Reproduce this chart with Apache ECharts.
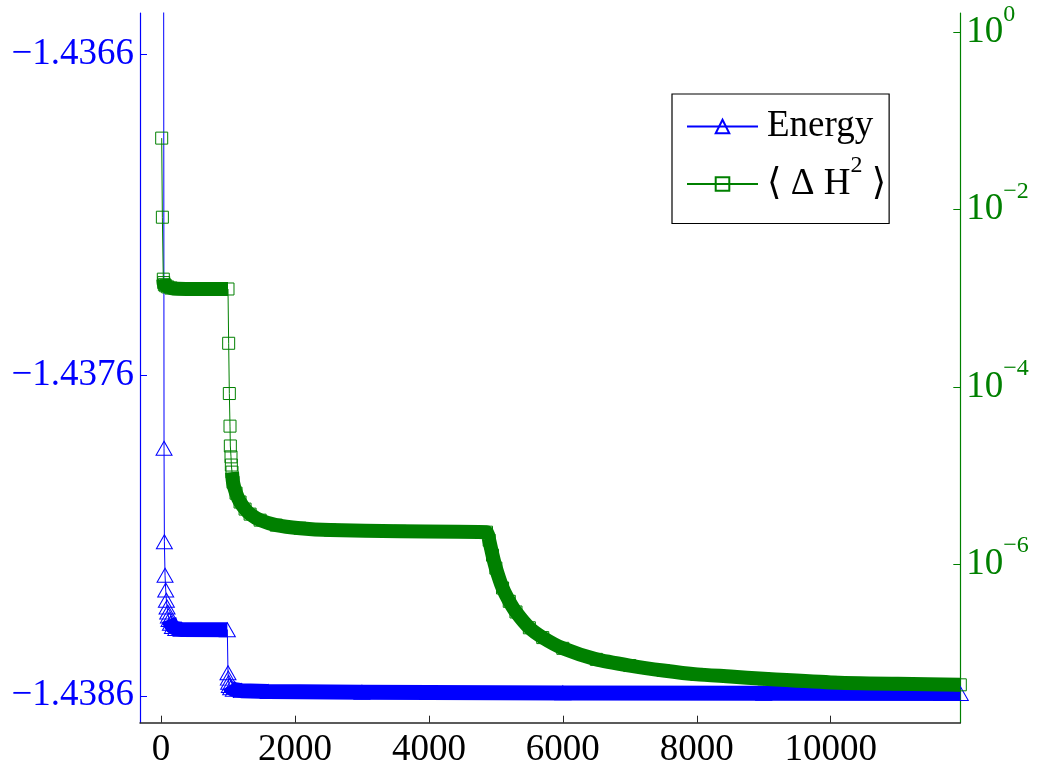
<!DOCTYPE html>
<html>
<head>
<meta charset="utf-8">
<script src="https://cdn.jsdelivr.net/npm/echarts@6/dist/echarts.min.js"></script>
<style>
html,body{margin:0;padding:0;background:#fff;}
#chart{width:1037px;height:772px;}
</style>
</head>
<body>
<div id="chart"></div>
<script>
// ---- Data ----
// Energy (left axis)
const energySteps = [30, 45, 50, 60, 70, 80, 90, 100, 110, 120, 140, 170, 220, 300, 990,
  1000, 1005, 1010, 1020, 1040, 1080, 1200, 1600, 3000, 6000, 9000, 11935];
const energyValues = [-1.4340, -1.437828, -1.438120, -1.438224, -1.438270, -1.438302, -1.438323,
  -1.438339, -1.438351, -1.438362, -1.438374, -1.438384, -1.438390, -1.438393, -1.438394,
  -1.438528, -1.438545, -1.438558, -1.438568, -1.438575, -1.438580, -1.438584, -1.438587,
  -1.438589, -1.438591, -1.438592, -1.438593];
// index ranges where markers are so dense they form a solid band
const energyBandRanges = [[9, 14], [18, 26]];

// <ΔH^2> (right axis, logarithmic)
const dh2Steps = [10, 20, 34, 40, 50, 70, 100, 150, 250, 500, 1000,
  1010, 1020, 1030, 1035, 1045, 1050, 1060, 1075, 1120, 1180, 1255, 1330, 1480, 1720, 2075,
  2525, 3570, 4860, 4900, 4950, 5000, 5100, 5200, 5300, 5500, 5700, 6000, 6500, 7000, 7500,
  8000, 8500, 9000, 10000, 11000, 11935];
const dh2Values = [0.064, 0.0082, 1.64e-3, 1.50e-3, 1.42e-3, 1.38e-3, 1.34e-3, 1.30e-3, 1.28e-3,
  1.27e-3, 1.27e-3, 3.1e-4, 8.4e-5, 3.6e-5, 2.15e-5, 1.62e-5, 1.31e-5, 1.09e-5, 8.39e-6,
  6.31e-6, 5.01e-6, 4.17e-6, 3.66e-6, 3.13e-6, 2.75e-6, 2.54e-6, 2.42e-6, 2.34e-6, 2.29e-6,
  1.86e-6, 1.26e-6, 9.0e-7, 5.37e-7, 3.80e-7, 2.88e-7, 1.91e-7, 1.48e-7, 1.12e-7, 8.41e-8,
  7.16e-8, 6.3e-8, 5.69e-8, 5.39e-8, 5.07e-8, 4.62e-8, 4.45e-8, 4.34e-8];
const dh2BandRanges = [[2, 10], [17, 46]];

// ticks
const xTicks = [0, 2000, 4000, 6000, 8000, 10000];
const energyTicks = [-1.4386, -1.4376, -1.4366];
const dh2TickExponents = [-6, -4, -2, 0];

// ---- build ----
const FONT = "'Liberation Serif', 'DejaVu Serif', serif";
const BLUE = '#0000ff';
const GREEN = '#008000';

const energyData = energySteps.map((s, i) => [s, energyValues[i]]);
const dh2Data = dh2Steps.map((s, i) => [s, Math.log10(dh2Values[i])]);

const series = [];
series.push({
  name: 'Energy', type: 'line', yAxisIndex: 0, data: energyData,
  symbol: 'triangle', symbolSize: [16, 14],
  itemStyle: { color: 'rgba(0,0,0,0)', borderColor: BLUE, borderWidth: 1 },
  lineStyle: { color: BLUE, width: 1 }, z: 2
});
energyBandRanges.forEach(r => {
  series.push({
    name: 'Energy', type: 'line', yAxisIndex: 0,
    data: energyData.slice(r[0], r[1] + 1), symbol: 'none',
    lineStyle: { color: BLUE, width: 15, join: 'round', cap: 'butt' }, z: 2
  });
});
series.push({
  name: 'dH2', type: 'line', yAxisIndex: 1, data: dh2Data,
  symbol: 'rect', symbolSize: 12,
  itemStyle: { color: 'rgba(0,0,0,0)', borderColor: GREEN, borderWidth: 1 },
  lineStyle: { color: GREEN, width: 1 }, z: 3
});
dh2BandRanges.forEach(r => {
  series.push({
    name: 'dH2', type: 'line', yAxisIndex: 1,
    data: dh2Data.slice(r[0], r[1] + 1), symbol: 'none', smooth: 0.2,
    lineStyle: { color: GREEN, width: 14, join: 'round', cap: 'butt' }, z: 3
  });
});

const chart = echarts.init(document.getElementById('chart'), null, { renderer: 'canvas' });
chart.setOption({
  animation: false,
  backgroundColor: '#fff',
  grid: { left: 140, right: 76.7, top: 13, bottom: 49.3, containLabel: false, outerBoundsMode: 'none' },
  legend: {
    data: ['Energy', 'dH2'],
    orient: 'vertical', left: 672, top: 94,
    padding: [14, 3, 21, 14], itemGap: 9, itemWidth: 71, itemHeight: 17,
    borderColor: '#000', borderWidth: 1.2, backgroundColor: '#fff',
    formatter: name => name === 'Energy' ? '{t|Energy}' : '{t|\u27E8 \u0394 H}{s|2}{a| \u27E9}',
    textStyle: {
      fontFamily: FONT, fontSize: 37, color: '#000',
      rich: {
        t: { fontFamily: FONT, fontSize: 37, lineHeight: 60, padding: [0, 0, 0, 4], color: '#000' },
        a: { fontFamily: FONT, fontSize: 37, lineHeight: 60, color: '#000' },
        s: { fontFamily: FONT, fontSize: 24, lineHeight: 46, verticalAlign: 'top', color: '#000' }
      }
    }
  },
  xAxis: {
    type: 'value', min: -314, max: 11935,
    axisLine: { onZero: false, lineStyle: { color: '#262626', width: 1.5 } },
    axisTick: { inside: true, length: 7, customValues: xTicks, lineStyle: { color: '#262626' } },
    axisLabel: { customValues: xTicks, fontFamily: FONT, fontSize: 37, lineHeight: 37, color: '#000', margin: 9,
      formatter: v => String(v) },
    splitLine: { show: false }
  },
  yAxis: [{
    type: 'value', position: 'left', min: -1.438684, max: -1.436471,
    axisLine: { show: true, onZero: false, lineStyle: { color: BLUE, width: 1.2 } },
    axisTick: { show: true, inside: true, length: 7, customValues: energyTicks, lineStyle: { color: BLUE } },
    axisLabel: { customValues: energyTicks, fontFamily: FONT, fontSize: 37, color: BLUE, margin: 6,
      formatter: v => '\u2212' + Math.abs(v).toFixed(4) },
    splitLine: { show: false }
  }, {
    type: 'value', position: 'right', min: -7.79, max: 0.218,
    axisLine: { show: true, onZero: false, lineStyle: { color: GREEN, width: 1.2 } },
    axisTick: { show: true, inside: true, length: 7, customValues: dh2TickExponents, lineStyle: { color: GREEN } },
    axisLabel: {
      customValues: dh2TickExponents, color: GREEN, margin: 6,
      formatter: v => '{b|10}{e|' + (v < 0 ? '\u2212' + (-v) : String(v)) + '}',
      rich: {
        b: { fontFamily: FONT, fontSize: 37, lineHeight: 60, color: GREEN },
        e: { fontFamily: FONT, fontSize: 24, lineHeight: 26, verticalAlign: 'top', color: GREEN }
      }
    },
    splitLine: { show: false }
  }],
  series: series
});
</script>
</body>
</html>
